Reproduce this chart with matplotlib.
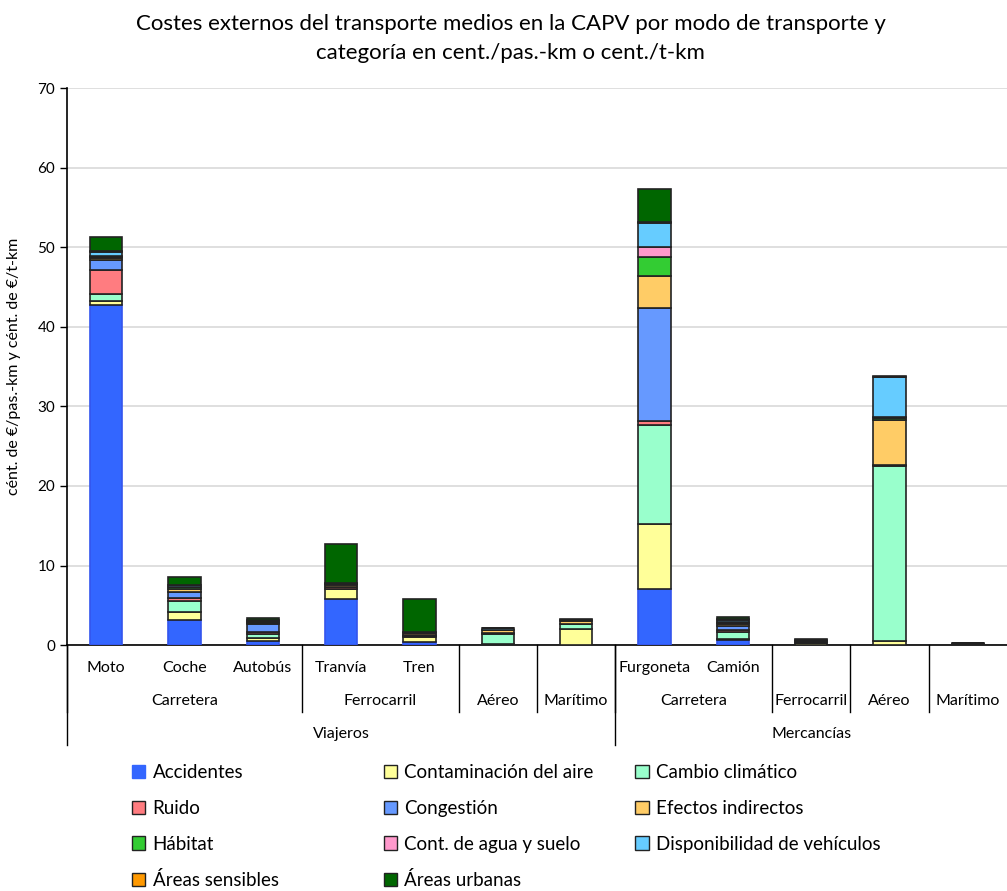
import matplotlib.pyplot as plt
import matplotlib.transforms as mtransforms
from matplotlib.patches import Rectangle
import numpy as np

plt.rcParams['font.family'] = ['Lato', 'DejaVu Sans']

categories = ['Moto', 'Coche', 'Autobús', 'Tranvía', 'Tren', 'Aéreo', 'Marítimo',
              'Furgoneta', 'Camión', 'Ferrocarril', 'Aéreo', 'Marítimo']
level1 = ['Moto', 'Coche', 'Autobús', 'Tranvía', 'Tren', '', '',
          'Furgoneta', 'Camión', '', '', '']
level2 = [('Carretera', 0, 2), ('Ferrocarril', 3, 4), ('Aéreo', 5, 5), ('Marítimo', 6, 6),
          ('Carretera', 7, 8), ('Ferrocarril', 9, 9), ('Aéreo', 10, 10), ('Marítimo', 11, 11)]
level3 = [('Viajeros', 0, 6), ('Mercancías', 7, 11)]

series = ['Accidentes', 'Contaminación del aire', 'Cambio climático', 'Ruido',
          'Congestión', 'Efectos indirectos', 'Hábitat', 'Cont. de agua y suelo',
          'Disponibilidad de vehículos', 'Áreas sensibles', 'Áreas urbanas']
colors = ['#3366FF', '#FFFF99', '#99FFCC', '#FF7C80', '#6699FF', '#FFCC66',
          '#33CC33', '#FF99CC', '#66CCFF', '#FF9900', '#006600']

accidentes = [42.7, 3.1, 0.5, 5.8, 0.4, 0.05, 0.05, 7.0, 0.6, 0.05, 0.05, 0.02]
contaminacion = [0.6, 1.1, 0.4, 1.2, 0.6, 0.1, 2.0, 8.2, 0.2, 0.15, 0.45, 0.1]
cambio = [0.8, 1.4, 0.5, 0.1, 0.1, 1.3, 0.65, 12.5, 0.9, 0.1, 22.0, 0.05]
ruido = [3.1, 0.3, 0.2, 0.2, 0.2, 0.1, 0.0, 0.5, 0.15, 0.15, 0.1, 0.0]
congestion = [1.2, 0.8, 1.0, 0.0, 0.0, 0.0, 0.0, 14.2, 0.6, 0.0, 0.0, 0.0]
efectos = [0.2, 0.4, 0.2, 0.3, 0.2, 0.3, 0.3, 4.0, 0.2, 0.1, 5.7, 0.05]
habitat = [0.2, 0.2, 0.1, 0.1, 0.05, 0.05, 0.1, 2.4, 0.15, 0.05, 0.3, 0.0]
agua = [0.1, 0.05, 0.05, 0.05, 0.05, 0.0, 0.1, 1.2, 0.15, 0.05, 0.1, 0.0]
disponibilidad = [0.5, 0.2, 0.1, 0.0, 0.0, 0.25, 0.0, 3.1, 0.15, 0.0, 5.0, 0.0]
sensibles = [0.1, 0.05, 0.05, 0.05, 0.05, 0.0, 0.0, 0.05, 0.15, 0.0, 0.0, 0.0]
urbanas = [1.8, 0.9, 0.25, 4.9, 4.1, 0.05, 0.05, 4.15, 0.25, 0.1, 0.1, 0.0]

values = [accidentes, contaminacion, cambio, ruido, congestion, efectos,
          habitat, agua, disponibilidad, sensibles, urbanas]

fig = plt.figure(figsize=(10.07, 8.91), dpi=100)
ax = fig.add_axes([0.0665, 0.276, 0.9335, 0.625])

x = np.arange(len(categories))
bottom = np.zeros(len(categories))
for name, vals, col in zip(series, values, colors):
    vals = np.array(vals)
    ec = '#3355EE' if name == 'Accidentes' else '#222222'
    ax.bar(x, vals, 0.41, bottom=bottom, color=col, edgecolor=ec, linewidth=1.2, zorder=3)
    bottom += vals

ax.set_xlim(-0.5, 11.5)
ax.set_ylim(0, 70)
ax.set_yticks(range(0, 71, 10))
ax.tick_params(axis='y', labelsize=11, length=5, direction='out', width=1)
ax.set_xticks([])
ax.yaxis.grid(True, color='#d9d9d9', linewidth=1.2, zorder=0)
for s in ['top', 'right']:
    ax.spines[s].set_visible(False)
ax.spines['left'].set_linewidth(1.2)
ax.spines['bottom'].set_linewidth(1.2)

ax.set_ylabel('cént. de €/pas.-km y cént. de €/t-km', fontsize=11.5, labelpad=12)

trans = mtransforms.blended_transform_factory(ax.transData, ax.transAxes)
y1, y2, y3 = -0.041, -0.1005, -0.16
l2_bottom, l3_bottom = -0.12, -0.18

for i, lab in enumerate(level1):
    if lab:
        ax.text(i, y1, lab, transform=trans, ha='center', va='center', fontsize=11.5)
for lab, a, b in level2:
    ax.text((a + b) / 2, y2, lab, transform=trans, ha='center', va='center', fontsize=11.5)
    ax.plot([a - 0.5, a - 0.5], [0, l2_bottom], transform=trans, color='black',
            lw=1, clip_on=False)
for lab, a, b in level3:
    ax.text((a + b) / 2, y3, lab, transform=trans, ha='center', va='center', fontsize=11.5)
    ax.plot([a - 0.5, a - 0.5], [0, l3_bottom], transform=trans, color='black',
            lw=1, clip_on=False)

fig.text(0.507, 0.973, 'Costes externos del transporte medios en la CAPV por modo de transporte y',
         ha='center', va='center', fontsize=16)
fig.text(0.507, 0.940, 'categoría en cent./pas.-km o cent./t-km',
         ha='center', va='center', fontsize=16)

# legend, three columns laid out row by row
handles = [Rectangle((0, 0), 1, 1, facecolor=c,
                     edgecolor=(c if n == 'Accidentes' else '#222222'), linewidth=1)
           for n, c in zip(series, colors)]
col_x = [0.131, 0.381, 0.631]
for c in range(3):
    idx = list(range(c, len(series), 3))
    fig.legend([handles[i] for i in idx], [series[i] for i in idx],
               loc='upper left', bbox_to_anchor=(col_x[c], 0.142),
               frameon=False, fontsize=13.5, handlelength=0.7, handleheight=0.7,
               handletextpad=0.4, labelspacing=0.99, borderaxespad=0, borderpad=0)

fig.savefig('out.png', dpi=100)
